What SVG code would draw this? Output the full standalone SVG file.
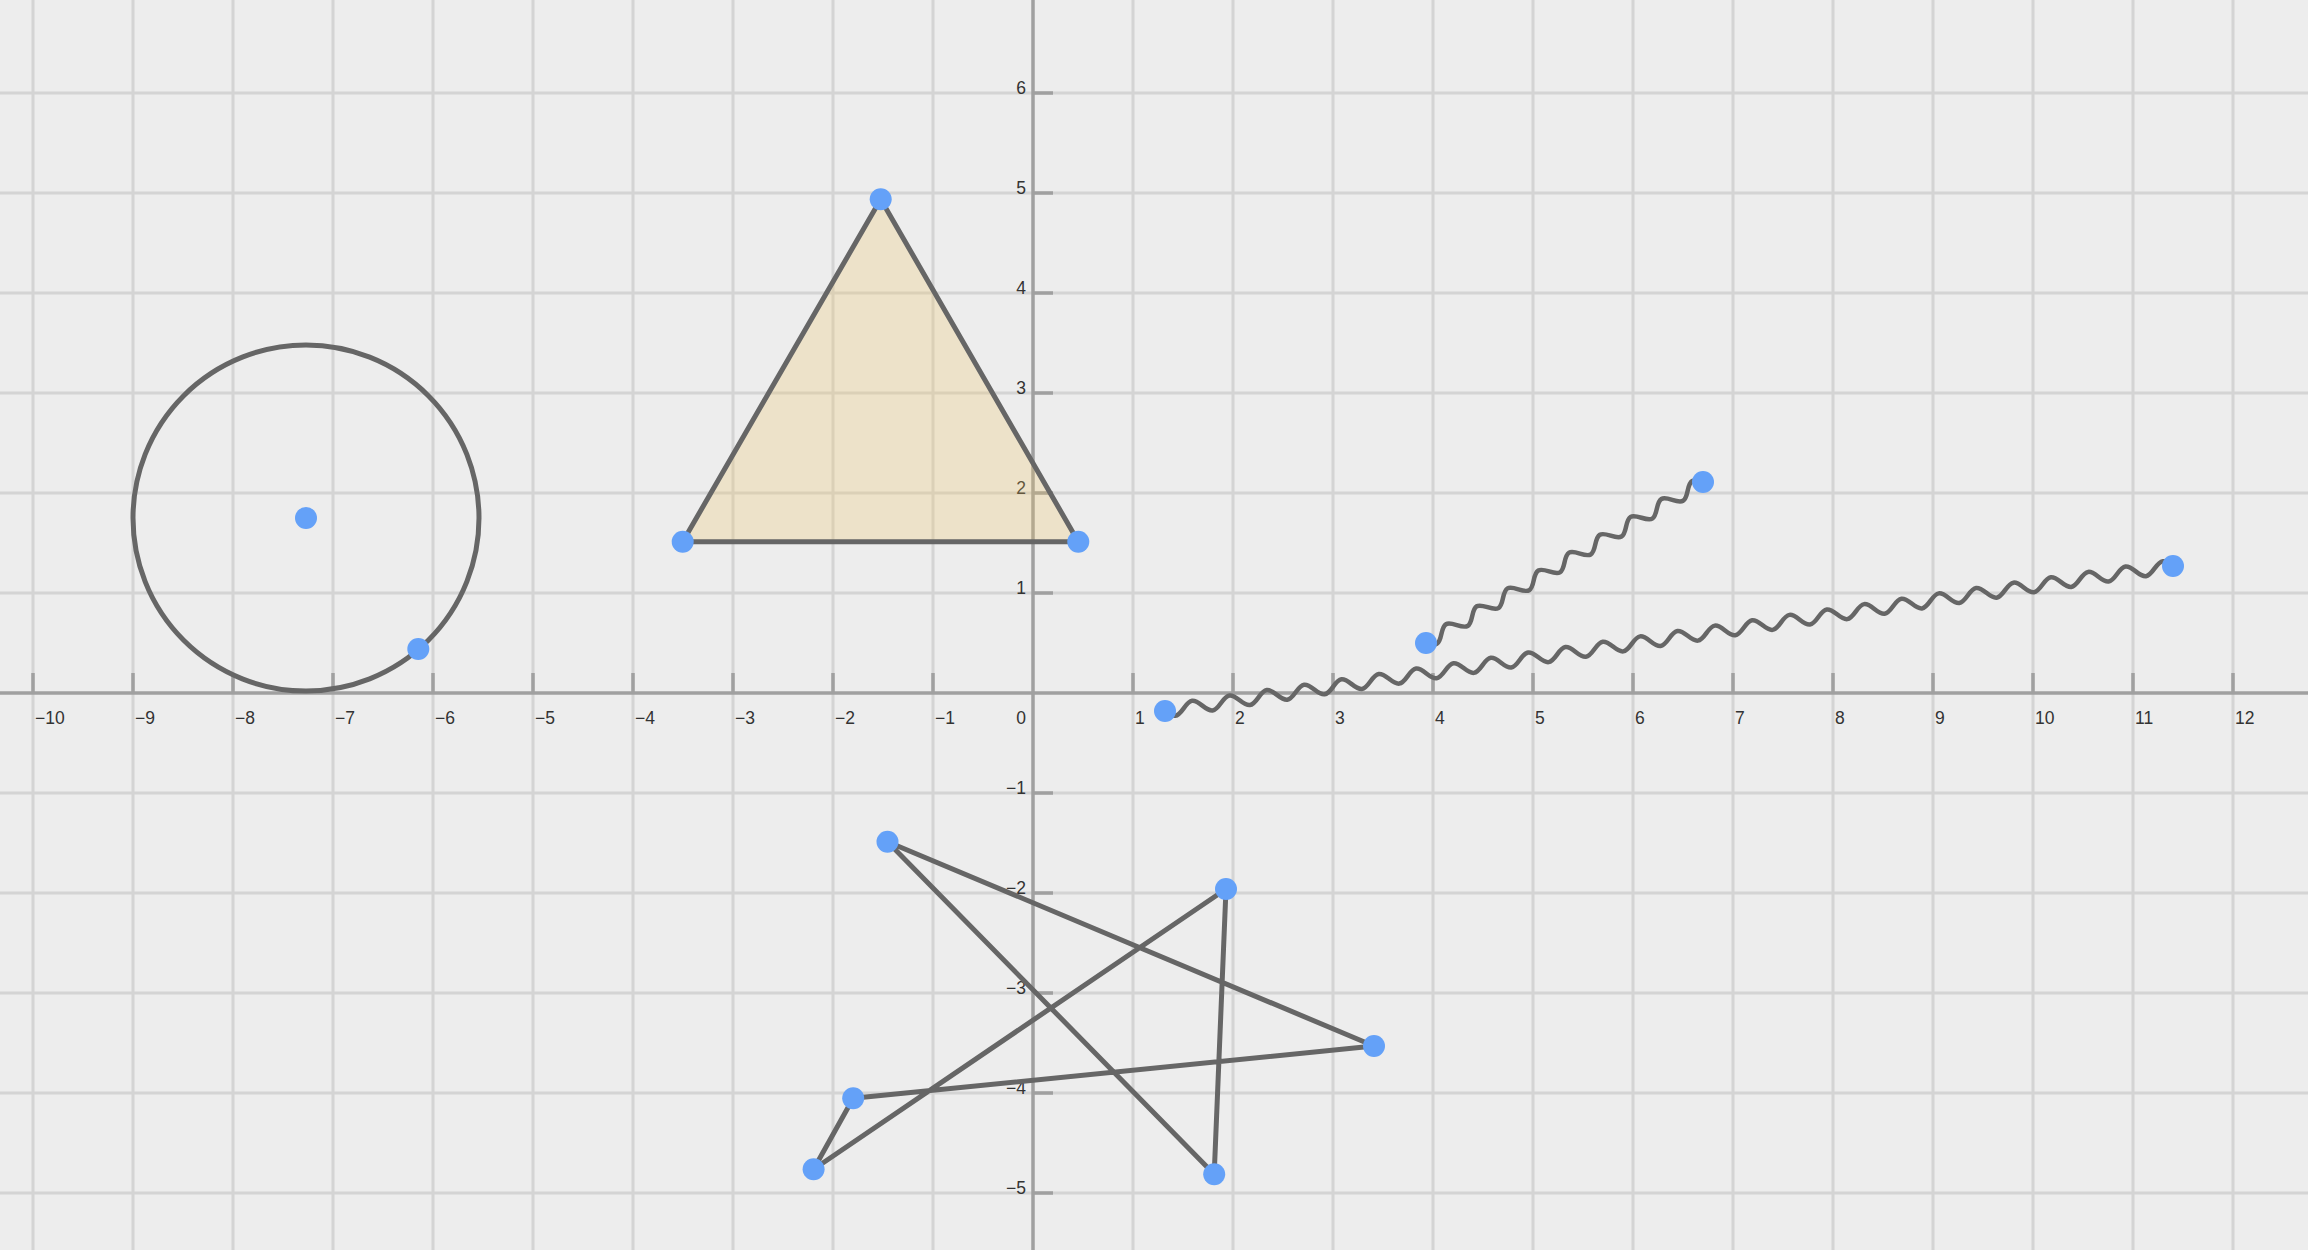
<svg xmlns="http://www.w3.org/2000/svg" width="2308" height="1250" viewBox="0 0 2308 1250">
<style>
.grid{stroke:#d4d4d4;stroke-width:3;fill:none}
.axis{stroke:#a0a0a0;stroke-width:3.5;fill:none}
.lbl{font-family:"Liberation Sans",Arial,sans-serif;font-size:17.5px;fill:#333}
.xl{text-anchor:start}
.yl{text-anchor:end}
.shape{stroke:#666;stroke-width:5;fill:none;stroke-linejoin:round;stroke-linecap:round}
.wave{stroke:#666;stroke-width:4.5;fill:none;stroke-linejoin:round;stroke-linecap:round}
.pt{fill:#64a1f8}
</style>
<rect x="0" y="0" width="2308" height="1250" fill="#ededed"/>
<g id="grid">
<path class="grid" d="M33,0V1250M133,0V1250M233,0V1250M333,0V1250M433,0V1250M533,0V1250M633,0V1250M733,0V1250M833,0V1250M933,0V1250M1133,0V1250M1233,0V1250M1333,0V1250M1433,0V1250M1533,0V1250M1633,0V1250M1733,0V1250M1833,0V1250M1933,0V1250M2033,0V1250M2133,0V1250M2233,0V1250M0,93H2308M0,193H2308M0,293H2308M0,393H2308M0,493H2308M0,593H2308M0,793H2308M0,893H2308M0,993H2308M0,1093H2308M0,1193H2308"/>
</g>
<g id="axes">
<path class="axis" d="M0,693H2308M1033,0V1250"/>
<path class="axis" d="M33,673V693M133,673V693M233,673V693M333,673V693M433,673V693M533,673V693M633,673V693M733,673V693M833,673V693M933,673V693M1133,673V693M1233,673V693M1333,673V693M1433,673V693M1533,673V693M1633,673V693M1733,673V693M1833,673V693M1933,673V693M2033,673V693M2133,673V693M2233,673V693M1033,93H1053M1033,193H1053M1033,293H1053M1033,393H1053M1033,493H1053M1033,593H1053M1033,793H1053M1033,893H1053M1033,993H1053M1033,1093H1053M1033,1193H1053"/>
</g>
<g id="labels" class="lbl">
<text class="xl" x="35" y="724">−10</text>
<text class="xl" x="135" y="724">−9</text>
<text class="xl" x="235" y="724">−8</text>
<text class="xl" x="335" y="724">−7</text>
<text class="xl" x="435" y="724">−6</text>
<text class="xl" x="535" y="724">−5</text>
<text class="xl" x="635" y="724">−4</text>
<text class="xl" x="735" y="724">−3</text>
<text class="xl" x="835" y="724">−2</text>
<text class="xl" x="935" y="724">−1</text>
<text class="yl" x="1026" y="724">0</text>
<text class="xl" x="1135" y="724">1</text>
<text class="xl" x="1235" y="724">2</text>
<text class="xl" x="1335" y="724">3</text>
<text class="xl" x="1435" y="724">4</text>
<text class="xl" x="1535" y="724">5</text>
<text class="xl" x="1635" y="724">6</text>
<text class="xl" x="1735" y="724">7</text>
<text class="xl" x="1835" y="724">8</text>
<text class="xl" x="1935" y="724">9</text>
<text class="xl" x="2035" y="724">10</text>
<text class="xl" x="2135" y="724">11</text>
<text class="xl" x="2235" y="724">12</text>
<text class="yl" x="1026" y="94">6</text>
<text class="yl" x="1026" y="194">5</text>
<text class="yl" x="1026" y="294">4</text>
<text class="yl" x="1026" y="394">3</text>
<text class="yl" x="1026" y="494">2</text>
<text class="yl" x="1026" y="594">1</text>
<text class="yl" x="1026" y="794">−1</text>
<text class="yl" x="1026" y="894">−2</text>
<text class="yl" x="1026" y="994">−3</text>
<text class="yl" x="1026" y="1094">−4</text>
<text class="yl" x="1026" y="1194">−5</text>
</g>
<g id="circle">
<circle class="shape" cx="306" cy="518" r="173"/>
</g>
<g id="triangle">
<polygon class="shape" points="880.7,199.3 682.7,541.7 1078.3,541.7" style="fill:rgba(241,195,95,0.25)"/>
</g>
<g id="connectors">
<g id="wave-long" transform="translate(1165,711) rotate(-8.186)">
<path class="wave" d="M0,0c8,8.3 10.86,8.3 18.86,0s10.86,-8.3 18.86,0s10.86,8.3 18.86,0s10.86,-8.3 18.86,0s10.86,8.3 18.86,0s10.86,-8.3 18.86,0s10.86,8.3 18.86,0s10.86,-8.3 18.86,0s10.86,8.3 18.86,0s10.86,-8.3 18.86,0s10.86,8.3 18.86,0s10.86,-8.3 18.86,0s10.86,8.3 18.86,0s10.86,-8.3 18.86,0s10.86,8.3 18.86,0s10.86,-8.3 18.86,0s10.86,8.3 18.86,0s10.86,-8.3 18.86,0s10.86,8.3 18.86,0s10.86,-8.3 18.86,0s10.86,8.3 18.86,0s10.86,-8.3 18.86,0s10.86,8.3 18.86,0s10.86,-8.3 18.86,0s10.86,8.3 18.86,0s10.86,-8.3 18.86,0s10.86,8.3 18.86,0s10.86,-8.3 18.86,0s10.86,8.3 18.86,0s10.86,-8.3 18.86,0s10.86,8.3 18.86,0s10.86,-8.3 18.86,0s10.86,8.3 18.86,0s10.86,-8.3 18.86,0s10.86,8.3 18.86,0s10.86,-8.3 18.86,0s10.86,8.3 18.86,0s10.86,-8.3 18.86,0s10.86,8.3 18.86,0s10.86,-8.3 18.86,0s10.86,8.3 18.86,0s10.86,-8.3 18.86,0s10.86,8.3 18.86,0s10.86,-8.3 18.86,0s10.86,8.3 18.86,0s10.86,-8.3 18.86,0s10.86,8.3 18.86,0s10.86,-8.3 18.86,0s10.86,8.3 18.86,0s10.86,-8.3 18.86,0s10.86,8.3 18.86,0s10.86,-8.3 18.86,0s10.86,8.3 18.86,0s10.86,-8.3 18.86,0"/>
</g>
<g id="wave-short" transform="translate(1426,643) rotate(-30.17)">
<path class="wave" d="M0,0c7.55,8.3 10.25,8.3 17.8,0s10.25,-8.3 17.8,0s10.25,8.3 17.8,0s10.25,-8.3 17.8,0s10.25,8.3 17.8,0s10.25,-8.3 17.8,0s10.25,8.3 17.8,0s10.25,-8.3 17.8,0s10.25,8.3 17.8,0s10.25,-8.3 17.8,0s10.25,8.3 17.8,0s10.25,-8.3 17.8,0s10.25,8.3 17.8,0s10.25,-8.3 17.8,0s10.25,8.3 17.8,0s10.25,-8.3 17.8,0s10.25,8.3 17.8,0s10.25,-8.3 17.8,0"/>
</g>
</g>
<g id="star">
<polygon class="shape" points="853.2,1098.3 1374,1046 887.5,841.7 1214.2,1174.3 1226,889 813.6,1169.3"/>
</g>
<g id="points">
<circle class="pt" cx="306" cy="518" r="11"/>
<circle class="pt" cx="418.3" cy="649" r="11"/>
<circle class="pt" cx="880.7" cy="199.3" r="11"/>
<circle class="pt" cx="682.7" cy="541.7" r="11"/>
<circle class="pt" cx="1078.3" cy="541.7" r="11"/>
<circle class="pt" cx="1165" cy="711" r="11"/>
<circle class="pt" cx="2173" cy="566" r="11"/>
<circle class="pt" cx="1426" cy="643" r="11"/>
<circle class="pt" cx="1703" cy="482" r="11"/>
<circle class="pt" cx="887.5" cy="841.7" r="11"/>
<circle class="pt" cx="1226" cy="889" r="11"/>
<circle class="pt" cx="1374" cy="1046" r="11"/>
<circle class="pt" cx="853.2" cy="1098.3" r="11"/>
<circle class="pt" cx="813.6" cy="1169.3" r="11"/>
<circle class="pt" cx="1214.2" cy="1174.3" r="11"/>
</g>
</svg>
